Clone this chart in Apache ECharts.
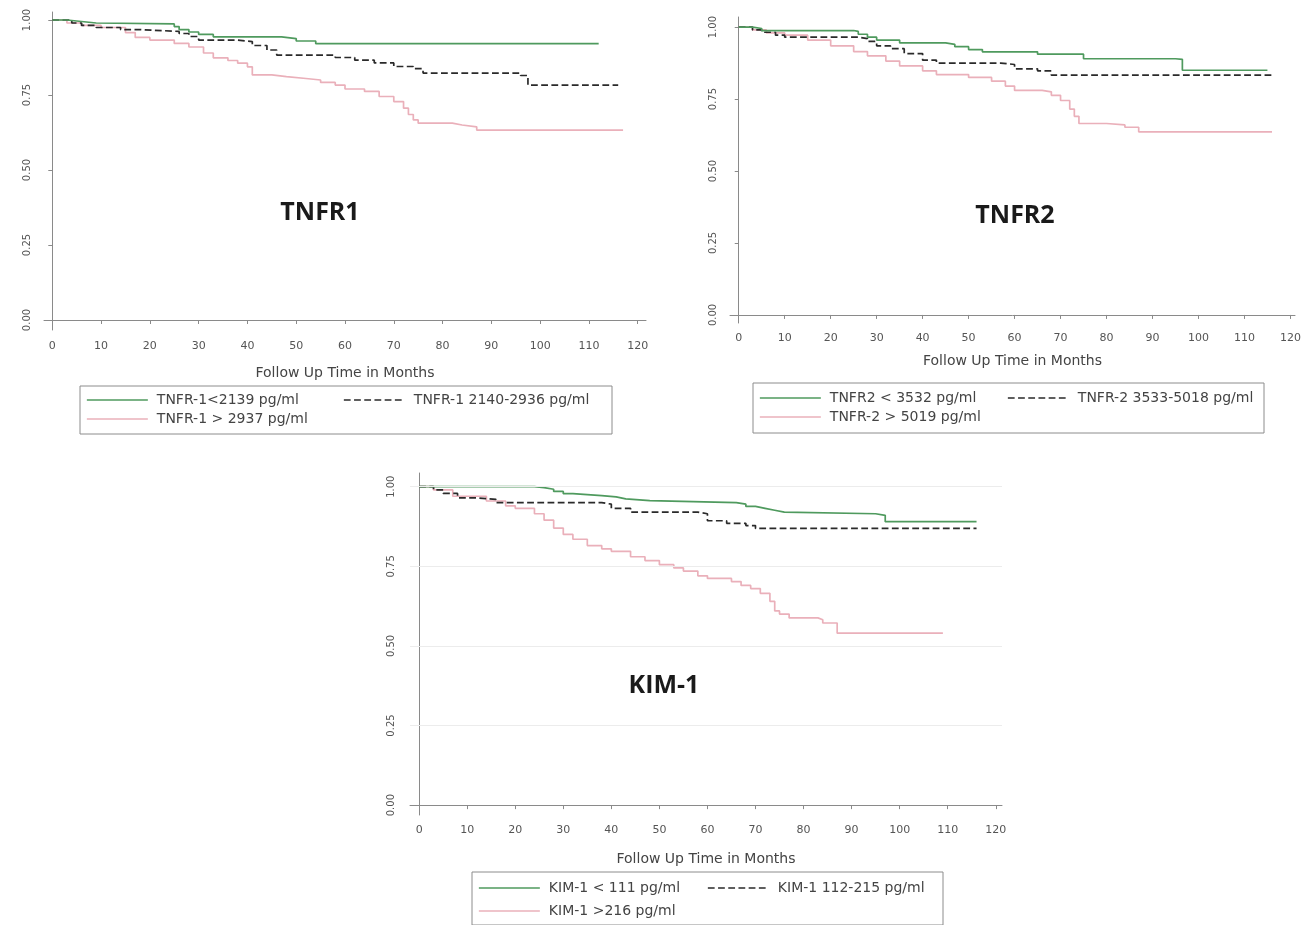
<!DOCTYPE html>
<html><head><meta charset="utf-8">
<script src="https://cdn.jsdelivr.net/npm/echarts@6/dist/echarts.min.js"></script>
<style>html,body{margin:0;padding:0;background:#fff}#c{width:1311px;height:925px}</style>
</head><body><div id="c"></div>
<script>
// ---- data: Kaplan-Meier [month, survival] ----
const xTicks = [0,10,20,30,40,50,60,70,80,90,100,110,120];
const yTicks = [0,0.25,0.5,0.75,1];
const panelTitles = ['TNFR1','TNFR2','KIM-1'];
const axisTitle = 'Follow Up Time in Months';

const tnfr1Names = ['TNFR-1<2139 pg/ml','TNFR-1 2140-2936 pg/ml','TNFR-1 > 2937 pg/ml'];
const tnfr1Low = [[0,1],[3,0.995],[6,0.99],[9,0.987],[25,0.978],[26,0.968],[28,0.96],[30,0.952],[33,0.944],[47,0.938],[50,0.93],[54,0.921],[112,0.921]];
const tnfr1Mid = [[0,1],[4,0.99],[6,0.982],[9,0.975],[14,0.968],[18,0.962],[26,0.955],[28,0.945],[30,0.933],[38,0.928],[41,0.915],[44,0.9],[46,0.883],[58,0.875],[62,0.866],[66,0.857],[70,0.845],[74,0.838],[76,0.823],[96,0.815],[97.5,0.783],[116,0.783]];
const tnfr1High = [[0,1],[3,0.99],[6,0.982],[10,0.975],[15,0.958],[17,0.942],[20,0.933],[25,0.922],[28,0.91],[31,0.89],[33,0.874],[36,0.865],[38,0.856],[40,0.844],[41,0.817],[45,0.811],[48,0.805],[52,0.8],[55,0.792],[58,0.783],[60,0.77],[64,0.762],[67,0.745],[70,0.728],[72,0.706],[73,0.685],[74,0.667],[75,0.656],[82,0.65],[84,0.644],[87,0.633],[117,0.633]];

const tnfr2Names = ['TNFR2 < 3532 pg/ml','TNFR-2 3533-5018 pg/ml','TNFR-2 > 5019 pg/ml'];
const tnfr2Low = [[0,1],[3,0.995],[5,0.988],[25,0.985],[26,0.975],[28,0.965],[30,0.955],[35,0.945],[45,0.94],[47,0.932],[50,0.922],[53,0.914],[65,0.906],[75,0.89],[95,0.888],[96.5,0.85],[115,0.85]];
const tnfr2Mid = [[0,1],[3,0.99],[5,0.982],[8,0.972],[10,0.965],[26,0.96],[28,0.95],[30,0.935],[33,0.925],[36,0.908],[40,0.885],[43,0.875],[57,0.87],[60,0.855],[65,0.848],[68,0.833],[116,0.828]];
const tnfr2High = [[0,1],[3,0.99],[6,0.98],[10,0.972],[15,0.955],[20,0.935],[25,0.915],[28,0.9],[32,0.882],[35,0.865],[40,0.848],[43,0.835],[50,0.825],[55,0.812],[58,0.795],[60,0.78],[66,0.775],[68,0.763],[70,0.745],[72,0.715],[73,0.69],[74,0.665],[80,0.66],[84,0.652],[87,0.636],[116,0.636]];

const kimNames = ['KIM-1 < 111 pg/ml','KIM-1 112-215 pg/ml','KIM-1 >216 pg/ml'];
const kimLow = [[0,1],[24,0.997],[26,0.992],[28,0.985],[30,0.978],[32,0.972],[38,0.968],[41,0.962],[43,0.956],[48,0.95],[66,0.945],[68,0.938],[70,0.932],[72,0.926],[74,0.92],[76,0.915],[95,0.91],[97,0.89],[116,0.89]];
const kimMid = [[0,1],[3,0.99],[5,0.979],[8,0.965],[12,0.96],[16,0.95],[38,0.945],[40,0.932],[44,0.92],[58,0.915],[60,0.893],[64,0.885],[68,0.878],[70,0.869],[116,0.869]];
const kimHigh = [[0,1],[3,0.99],[7,0.97],[14,0.955],[18,0.94],[20,0.932],[24,0.915],[26,0.895],[28,0.87],[30,0.85],[32,0.835],[35,0.815],[38,0.805],[40,0.797],[44,0.78],[47,0.768],[50,0.755],[53,0.745],[55,0.735],[58,0.72],[60,0.712],[65,0.702],[67,0.69],[69,0.68],[71,0.665],[73,0.64],[74,0.61],[75,0.6],[77,0.588],[83,0.582],[84,0.572],[87,0.54],[109,0.54]];
const kimGridValues = [0.25,0.5,0.75,1];

// ---- styling / layout ----
const GREEN = '#4f9a5e', DASH = '#2a2a2a', PINK = '#eab0ba';
const AXIS = '#8a8a8a', TXT = '#555';
const FONT = 'DejaVu Sans';

const panels = [
  {grid:{left:44,top:12,width:602,height:318}, xr:[-1.7,121.7], yr:[-0.0333,1.0267], lblM:12, xLblM:11, titleGap:36,
   names:tnfr1Names, data:[tnfr1Low,tnfr1Mid,tnfr1High], title:[320,213],
   box:[80,386,532,48], leg:[[86,393],[343,393],[86,412]]},
  {grid:{left:730,top:17,width:565,height:306}, xr:[-1.9,121], yr:[-0.028,1.035], lblM:12, xLblM:10, titleGap:31,
   names:tnfr2Names, data:[tnfr2Low,tnfr2Mid,tnfr2High], title:[1015,216],
   box:[753,383,511,50], leg:[[759,391],[1007,391],[759,410]]},
  {grid:{left:410,top:473,width:592,height:342}, xr:[-1.9,121.3], yr:[-0.031,1.043], lblM:14, xLblM:10, titleGap:37,
   names:kimNames, data:[kimLow,kimMid,kimHigh], title:[664,686],
   box:[472,872,471,53], leg:[[478,881],[707,881],[478,904]]}
];

const option = {animation:false, backgroundColor:'#fff', grid:[], xAxis:[], yAxis:[], series:[], legend:[], graphic:[]};
const colors = [GREEN, DASH, PINK];
const types = ['solid','dashed','solid'];

panels.forEach((p,i)=>{
  option.grid.push(p.grid);
  option.xAxis.push({type:'value', gridIndex:i, min:p.xr[0], max:p.xr[1],
    name:axisTitle, nameLocation:'middle', nameGap:p.titleGap,
    nameTextStyle:{fontFamily:FONT, fontSize:14, color:'#444'},
    axisLine:{lineStyle:{color:AXIS}}, splitLine:{show:false},
    axisTick:{customValues:xTicks, length:4, lineStyle:{color:AXIS}},
    axisLabel:{customValues:xTicks, margin:p.xLblM, fontFamily:FONT, fontSize:11, color:TXT}});
  option.yAxis.push({type:'value', gridIndex:i, min:p.yr[0], max:p.yr[1],
    axisLine:{show:true, lineStyle:{color:AXIS}}, splitLine:{show:false},
    axisTick:{show:true, customValues:yTicks, length:4, lineStyle:{color:AXIS}},
    axisLabel:{customValues:yTicks, rotate:90, margin:p.lblM, fontFamily:FONT, fontSize:10, color:TXT,
      formatter:v=>v.toFixed(2)}});
  p.data.forEach((d,k)=>{
    const s = {type:'line', name:p.names[k], xAxisIndex:i, yAxisIndex:i, data:d, step:'end',
      symbol:'none', silent:true, color:colors[k],
      lineStyle:{color:colors[k], width:1.7, type:types[k]}, z: 3-k};
    if (i===2 && k===0) {
      s.markLine = {silent:true, symbol:'none', label:{show:false},
        lineStyle:{color:'#ececec', width:1, type:'solid'},
        data: kimGridValues.map(v=>({yAxis:v}))};
    }
    option.series.push(s);
    option.legend.push({data:[p.names[k]], left:p.leg[k][0], top:p.leg[k][1], padding:0,
      itemWidth:61, itemHeight:14, itemGap:0, selectedMode:false,
      itemStyle:{opacity:0},
      lineStyle:{color:colors[k], width:1.7, type:types[k]},
      textStyle:{fontFamily:FONT, fontSize:14, color:'#444', padding:[0,0,0,4]}});
  });
  option.graphic.push({type:'rect', shape:{x:p.box[0], y:p.box[1], width:p.box[2], height:p.box[3]},
    style:{fill:'none', stroke:'#8c8c8c', lineWidth:1}, silent:true});
  option.graphic.push({type:'text', x:p.title[0], y:p.title[1],
    style:{text:panelTitles[i], font:'bold 25px "Open Sans"', fill:'#1a1a1a', textAlign:'center', textVerticalAlign:'middle'}});
});

const chart = echarts.init(document.getElementById('c'), null, {renderer:'canvas'});
chart.setOption(option);
</script></body></html>
